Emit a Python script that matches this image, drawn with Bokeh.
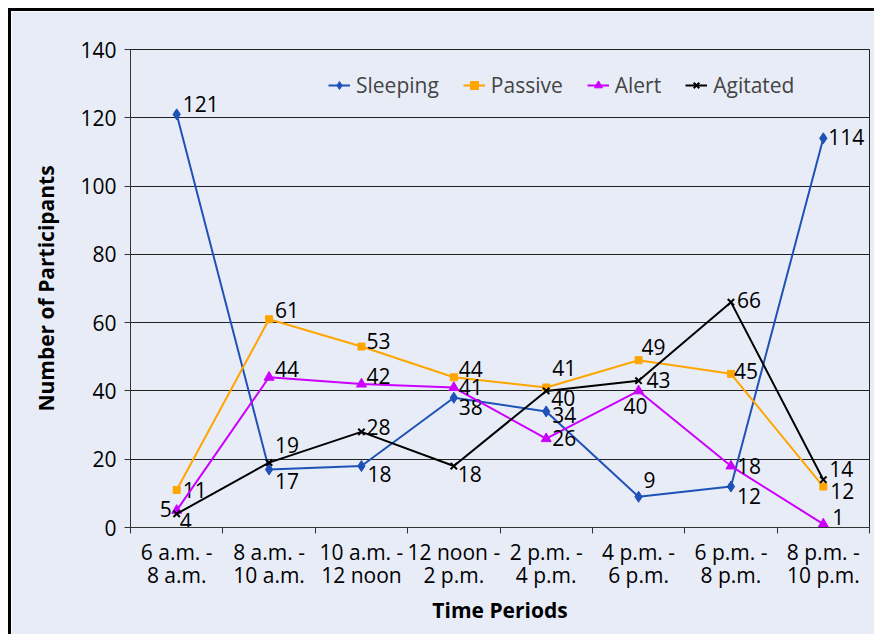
from bokeh.plotting import figure
from bokeh.models import ColumnDataSource, FixedTicker, Range1d
from bokeh.core.properties import value
from bokeh.embed import file_html
from bokeh.resources import INLINE

# ---------------- data ----------------
categories = ["6 a.m. -\n8 a.m.", "8 a.m. -\n10 a.m.", "10 a.m. -\n12 noon",
              "12 noon -\n2 p.m.", "2 p.m. -\n4 p.m.", "4 p.m. -\n6 p.m.",
              "6 p.m. -\n8 p.m.", "8 p.m. -\n10 p.m."]
sleeping = [121, 17, 18, 38, 34, 9, 12, 114]
passive = [11, 61, 53, 44, 41, 49, 45, 12]
alert = [5, 44, 42, 41, 26, 40, 18, 1]
agitated = [4, 19, 28, 18, 40, 43, 66, 14]
y_ticks = [0, 20, 40, 60, 80, 100, 120, 140]

# ---------------- styles ----------------
FONT = "Open Sans"
FS = "21px"
BG = "#E8ECF7"
# data-label placement (x offset px, y offset px, alignment)
sleeping_lab = [(6, -10, "left"), (6, 12, "left"), (6, 8, "left"), (5, 9, "left"),
                (6, 4, "left"), (5, -17, "left"), (6, 9, "left"), (5, -1, "left")]
passive_lab = [(6, 0, "left"), (6, -9, "left"), (5, -6, "left"), (5, -8, "left"),
               (6, -20, "left"), (3, -13, "left"), (3, -3, "left"), (7, 4, "left")]
alert_lab = [(-5, -1, "right"), (6, -8, "left"), (5, -8, "left"), (5, -1, "left"),
             (6, -1, "left"), (-3, 15, "center"), (6, 0, "left"), (9, -7, "left")]
agitated_lab = [(3, 7, "left"), (6, -18, "left"), (5, -5, "left"), (4, 8, "left"),
                (5, 7, "left"), (8, -1, "left"), (6, -2, "left"), (6, -11, "left")]

xs = list(range(1, len(categories) + 1))

p = figure(width=866, height=626, output_backend="svg", toolbar_location=None,
           x_range=Range1d(0.5, len(categories) + 0.5), y_range=Range1d(0, 140),
           min_border_left=119, min_border_right=8, min_border_top=38,
           min_border_bottom=110)
p.styles = {"margin-left": "8px", "margin-top": "8px",
            "border-left": "3px solid black", "border-top": "3px solid black"}
p.background_fill_color = BG
p.border_fill_color = BG
p.outline_line_color = "#222222"
p.outline_line_width = 1

# axes
p.xaxis.ticker = FixedTicker(ticks=xs, minor_ticks=[x - 0.5 for x in xs] + [xs[-1] + 0.5])
p.xaxis.major_label_overrides = {x: c for x, c in zip(xs, categories)}
p.xaxis.major_tick_out = 0
p.xaxis.major_tick_in = 0
p.xaxis.minor_tick_out = 6
p.xaxis.minor_tick_in = 0
p.xaxis.major_label_standoff = 4
p.xaxis.major_label_text_line_height = 0.85
p.xaxis.axis_label = "Time Periods"
p.xaxis.axis_label_standoff = 4

p.yaxis.ticker = FixedTicker(ticks=y_ticks)
p.yaxis.major_tick_out = 6
p.yaxis.major_tick_in = 0
p.yaxis.minor_tick_out = 0
p.yaxis.minor_tick_in = 0
p.yaxis.major_label_standoff = 8
p.yaxis.axis_label = "Number of Participants"
p.yaxis.axis_label_standoff = 17

for ax in (p.xaxis[0], p.yaxis[0]):
    ax.axis_line_color = "#333333"
    ax.major_tick_line_color = "#333333"
    ax.minor_tick_line_color = "#333333"
    ax.major_label_text_font = FONT
    ax.major_label_text_font_size = FS
    ax.major_label_text_color = "black"
    ax.axis_label_text_font = FONT
    ax.axis_label_text_font_size = FS
    ax.axis_label_text_font_style = "bold"
    ax.axis_label_text_color = "black"

p.xgrid.visible = False
p.ygrid.ticker = FixedTicker(ticks=y_ticks)
p.ygrid.grid_line_color = "#222222"
p.ygrid.grid_line_width = 1

series = [
    ("Sleeping", sleeping, "#1F52B8", "diamond", 11, sleeping_lab),
    ("Passive", passive, "#FFA500", "square", 7, passive_lab),
    ("Alert", alert, "#CC00FF", "triangle", 10, alert_lab),
    ("Agitated", agitated, "#000000", "x", 9, agitated_lab),
]

for name, vals, color, marker, size, lab in series:
    src = ColumnDataSource(dict(
        x=xs, y=vals, t=[str(v) for v in vals],
        dx=[l[0] for l in lab], dy=[l[1] for l in lab], al=[l[2] for l in lab]))
    p.line("x", "y", source=src, line_color=color, line_width=2, legend_label=name)
    p.scatter("x", "y", source=src, marker=marker, size=size, fill_color=color,
              line_color=color, line_width=2 if marker == "x" else 1, legend_label=name)
    p.text("x", "y", text="t", source=src, x_offset="dx", y_offset="dy",
           text_align="al", text_baseline="middle", text_font=value(FONT),
           text_font_size=FS, text_color="black")

lg = p.legend[0]
lg.orientation = "horizontal"
lg.location = (194, 424)
lg.background_fill_alpha = 0
lg.border_line_alpha = 0
lg.label_text_font = FONT
lg.label_text_font_size = FS
lg.glyph_width = 22
lg.spacing = 24
lg.label_standoff = 6
lg.padding = 4
lg.margin = 0

open("out.html", "w").write(file_html(p, INLINE))
